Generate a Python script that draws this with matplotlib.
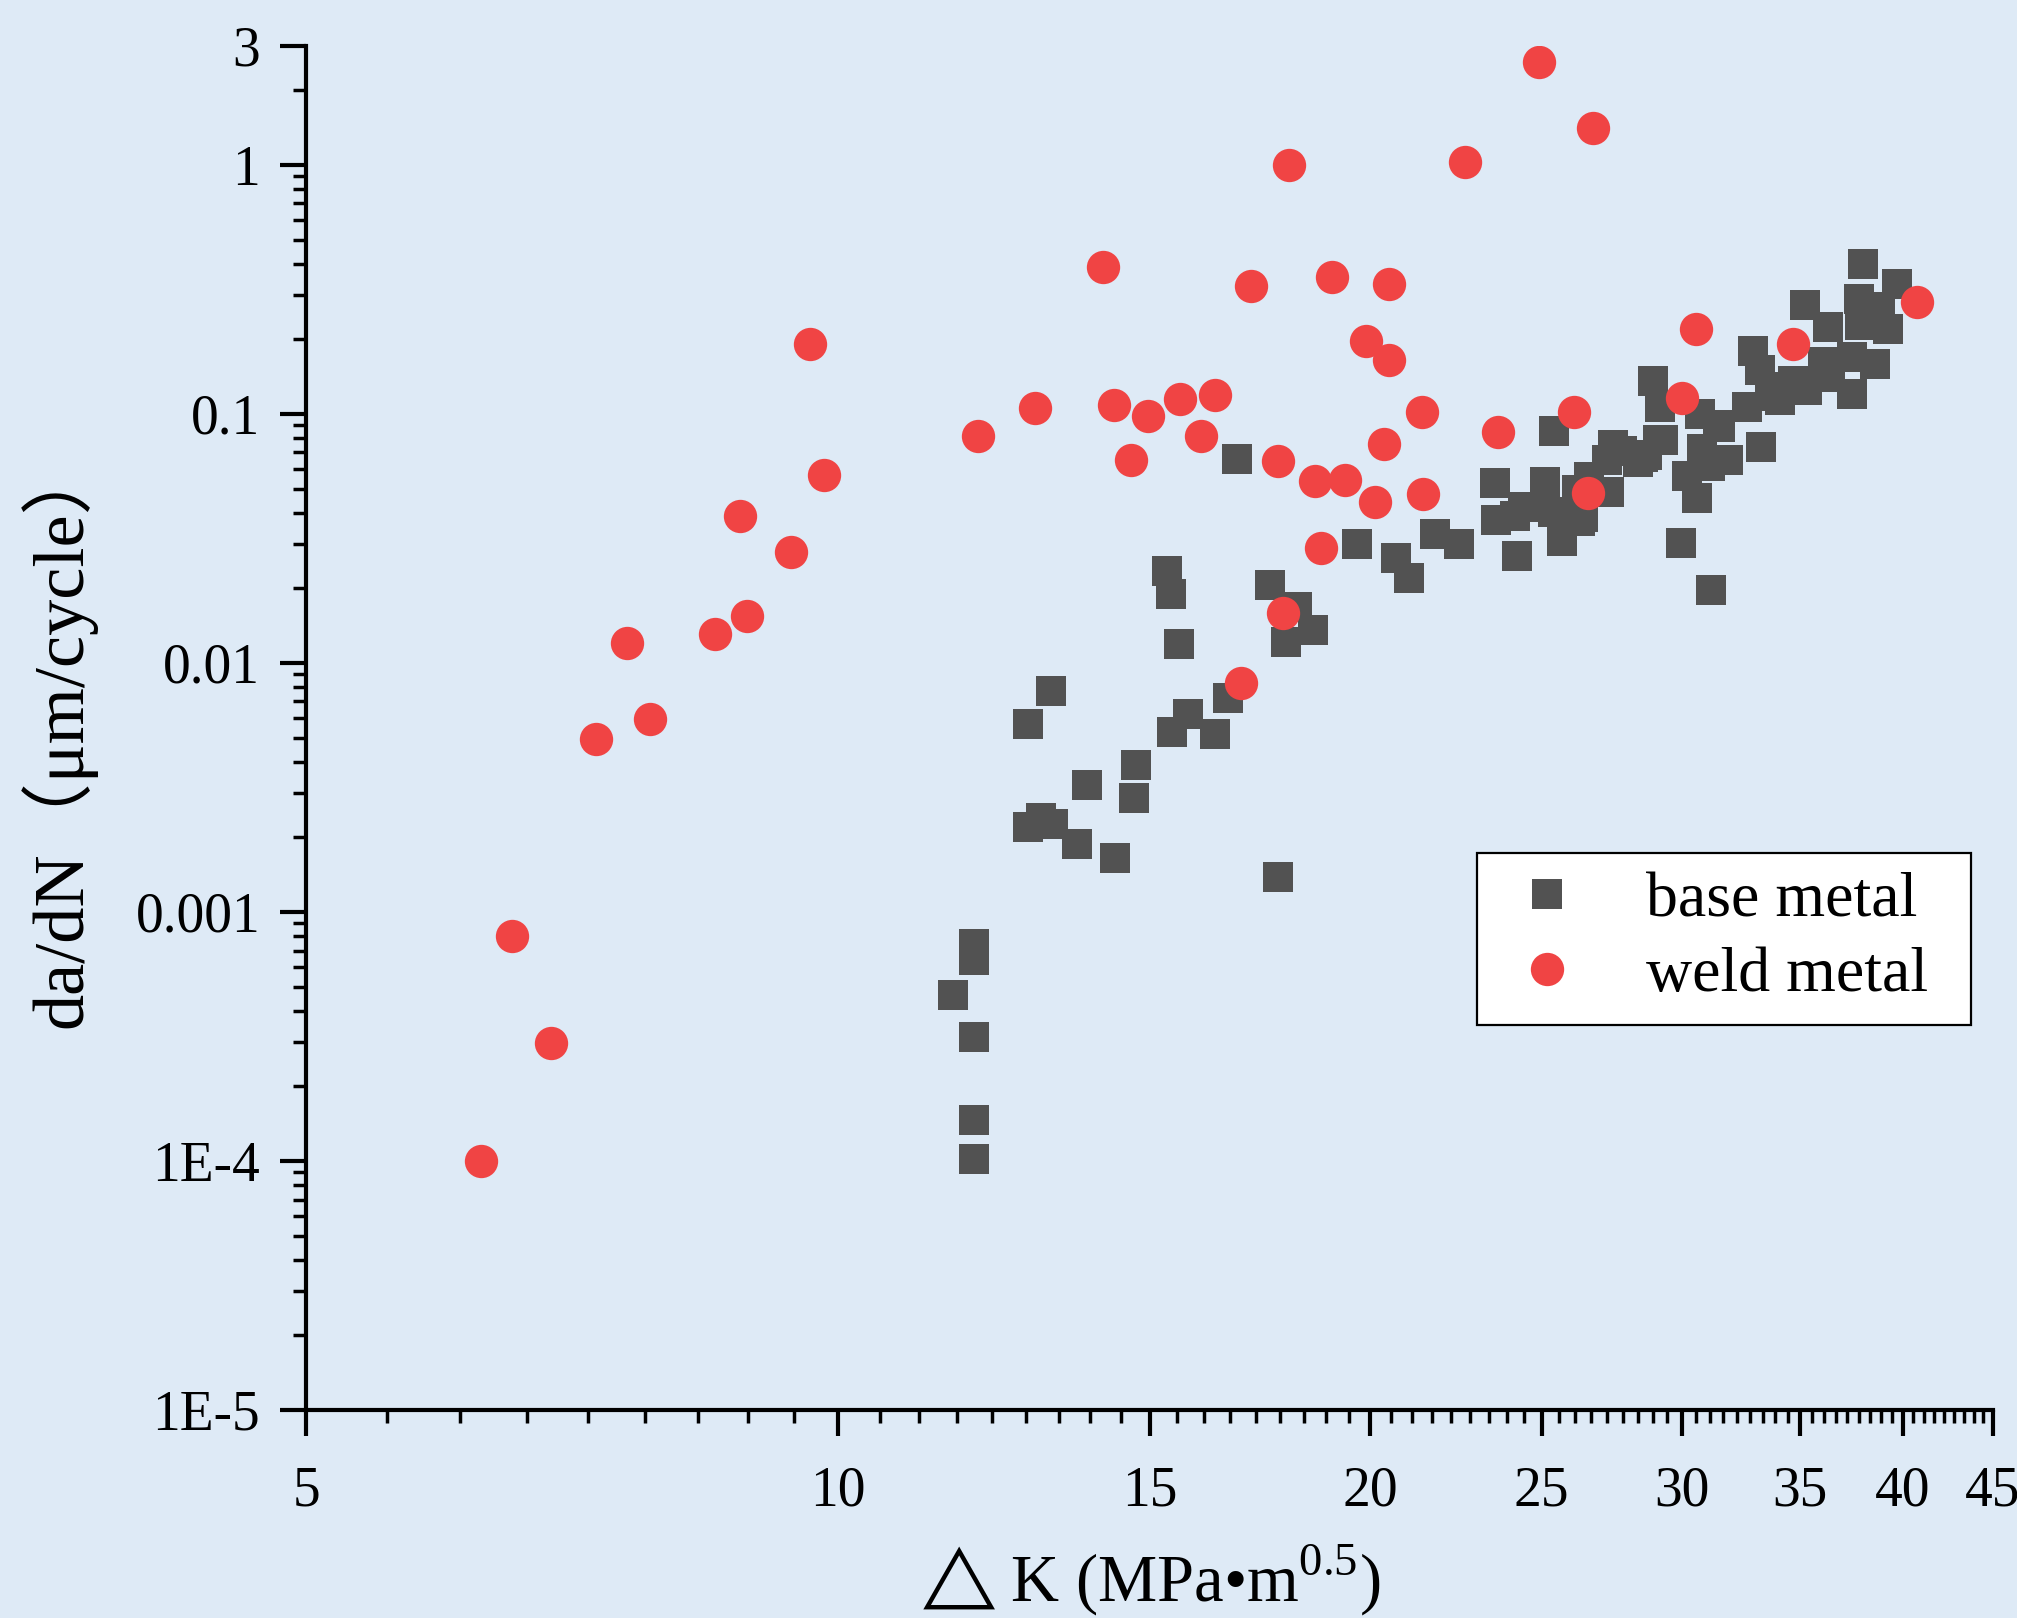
"""da/dN - dK scatter: base metal vs weld metal, log-log (Origin style)."""
import matplotlib
matplotlib.use("Agg")
import matplotlib.pyplot as plt
from matplotlib.ticker import FixedLocator, FixedFormatter, LogLocator, NullFormatter

# ---- data ----
base_dk = [11.94, 11.94, 11.61, 11.94, 11.94, 11.94,
           12.80, 13.03, 13.22, 13.19, 12.80, 13.64, 13.83, 14.35, 14.73, 14.70,
           15.35, 15.43, 15.58, 15.78, 15.45, 16.33, 16.62, 16.80, 17.54, 18.17, 18.57, 17.93, 17.74,
           19.65, 20.67, 21.04, 21.77, 22.46,
           23.51, 23.57, 24.14, 24.39, 24.20,
           25.10, 25.39, 25.36, 25.66, 26.27, 26.16, 26.58, 27.28, 27.42, 27.75, 28.34, 28.67, 29.08, 28.89, 29.16,
           30.72, 31.45, 30.80, 31.86, 30.20, 31.12, 30.60, 29.97, 31.16,
           33.25, 32.65, 32.91, 33.21, 33.78, 34.67,
           35.22, 36.29, 36.05, 35.31, 37.44, 37.44, 38.57, 37.97, 39.70, 37.78, 37.82, 39.23, 38.82,
           36.38, 34.08, 31.53, 29.27, 28.52, 27.21, 26.37, 33.65]
base_rate = [7.40e-4, 6.39e-4, 4.62e-4, 3.16e-4, 1.455e-4, 1.02e-4,
             2.185e-3, 2.374e-3, 2.245e-3, 7.68e-3, 5.66e-3, 1.867e-3, 3.22e-3, 1.640e-3, 3.877e-3, 2.856e-3,
             0.02331, 0.01884, 0.01187, 6.21e-3, 5.26e-3, 5.16e-3, 7.20e-3, 0.0657, 0.0205, 0.0167, 0.0135, 0.01209, 1.376e-3,
             0.0299, 0.0263, 0.02185, 0.0328, 0.0299,
             0.0526, 0.0374, 0.0388, 0.0421, 0.0268,
             0.0531, 0.0851, 0.0402, 0.0310, 0.0370, 0.0493, 0.0556, 0.0484, 0.0747, 0.0707, 0.0639, 0.0681, 0.0782, 0.1351, 0.1062,
             0.0995, 0.0899, 0.0720, 0.0651, 0.0561, 0.0615, 0.0458, 0.0302, 0.01955,
             0.0734, 0.1062, 0.1782, 0.1495, 0.1176, 0.1351,
             0.2728, 0.2226, 0.161, 0.1243, 0.1198, 0.1686, 0.158, 0.3984, 0.331, 0.2884, 0.2267, 0.2185, 0.2678,
             0.1401, 0.1133, 0.0883, 0.0782, 0.0669, 0.0651, 0.0384, 0.1278]

weld_dk = [9.64, 11.99, 9.82, 8.80, 9.41, 8.88, 8.52, 7.60, 7.83, 7.29, 6.54, 6.88, 6.28,
           18.00, 22.63, 14.11, 17.11, 19.02, 20.48, 19.88, 20.48, 12.93, 14.33, 14.98, 15.60, 16.33,
           16.05, 14.65, 17.74, 18.62, 19.34, 20.11, 21.38, 20.37, 21.43, 23.63, 18.76, 17.86, 16.89,
           24.90, 26.72, 40.74, 30.56, 34.67, 30.00, 26.06, 26.54]
weld_rate = [0.190, 0.0812, 0.0566, 0.0388, 0.0278, 0.01537, 0.01302, 0.01198, 0.00598, 0.00497,
             0.000797, 0.000299, 0.0001,
             1.0, 1.03, 0.388, 0.325, 0.353, 0.331, 0.197, 0.164, 0.1052, 0.1082, 0.0977, 0.1143, 0.1187,
             0.0812, 0.0651, 0.0645, 0.0536, 0.0541, 0.0441, 0.1014, 0.0754, 0.0475, 0.0843, 0.0288, 0.0158, 0.00827,
             2.59, 1.40, 0.280, 0.2185, 0.190, 0.1154, 0.1014, 0.0479]

x_major = [5, 10, 15, 20, 25, 30, 35, 40, 45]
x_labels = ["5", "10", "15", "20", "25", "30", "35", "40", "45"]
y_major = [1e-5, 1e-4, 1e-3, 1e-2, 1e-1, 1, 3]
y_labels = ["1E-5", "1E-4", "0.001", "0.01", "0.1", "1", "3"]

assert len(base_dk) == len(base_rate) and len(weld_dk) == len(weld_rate)

BG = "#DEEAF6"
SERIF = ["Liberation Serif", "DejaVu Serif", "Noto Sans CJK SC"]

plt.rcParams["font.family"] = SERIF
plt.rcParams["mathtext.fontset"] = "custom"
plt.rcParams["mathtext.rm"] = "Liberation Serif"
plt.rcParams["mathtext.fallback"] = "stix"

fig = plt.figure(figsize=(20.17, 16.18), dpi=100, facecolor=BG)
ax = fig.add_axes([306 / 2017, 1 - 1410 / 1618, 1687 / 2017, 1364 / 1618])
ax.set_facecolor(BG)

ax.plot(base_dk, base_rate, "s", ms=21, color="#525252", mew=0, label="base metal", zorder=3)
ax.plot(weld_dk, weld_rate, "o", ms=24, color="#F04444", mew=0, label="weld metal", zorder=4)

ax.set_xscale("log")
ax.set_yscale("log")
ax.set_xlim(5, 45)
ax.set_ylim(1e-5, 3)

# Origin-like ticks: linear minor steps (8 per 5 units) on the log x axis
ax.xaxis.set_major_locator(FixedLocator(x_major))
ax.xaxis.set_major_formatter(FixedFormatter(x_labels))
x_minor = [5 + k * 5 / 9 for k in range(1, 72) if k % 9]
ax.xaxis.set_minor_locator(FixedLocator(x_minor))
ax.xaxis.set_minor_formatter(NullFormatter())

ax.yaxis.set_major_locator(FixedLocator(y_major))
ax.yaxis.set_major_formatter(FixedFormatter(y_labels))
ax.yaxis.set_minor_locator(LogLocator(base=10, subs=range(2, 10), numticks=20))
ax.yaxis.set_minor_formatter(NullFormatter())

for side in ("top", "right"):
    ax.spines[side].set_visible(False)
for side in ("left", "bottom"):
    ax.spines[side].set_linewidth(3)
ax.tick_params(which="major", direction="out", length=19, width=3, labelsize=40)
ax.tick_params(which="minor", direction="out", length=9.5, width=2.5)
ax.tick_params(axis="x", which="major", pad=21)
ax.tick_params(axis="y", which="major", pad=14)

ax.set_xlabel("$\\triangle$K (MPa•m$^{\\mathrm{0.5}}$)", fontsize=48)
ax.xaxis.set_label_coords(0.497, -0.097)
ax.set_ylabel("da/dN（μm/cycle）", fontsize=52, family=SERIF)
ax.yaxis.set_label_coords(-0.124, 0.496)

leg = ax.legend(loc="upper left", bbox_to_anchor=(0.694, 0.298, 0.293, 0.1105),
                mode="expand", borderaxespad=0, fontsize=46, numpoints=1,
                fancybox=False, framealpha=1, edgecolor="black", facecolor="white",
                borderpad=0.3, handlelength=1.6, handletextpad=0.75, labelspacing=0.25)
leg.get_frame().set_linewidth(1.6)

fig.savefig("out.png", dpi=100, facecolor=BG)
